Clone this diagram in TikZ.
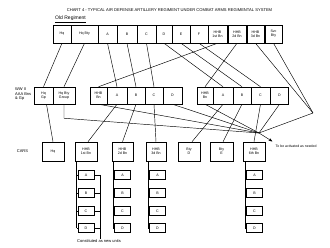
\documentclass[tikz,border=0pt]{standalone}
\usepackage{fontspec}
\setmainfont{Liberation Sans}
\usetikzlibrary{arrows.meta}
\begin{document}
\begin{tikzpicture}[x=1pt,y=-1pt,
 box/.style={draw, line width=0.5pt, inner sep=0pt, align=center, font=\fontsize{3.6}{4.2}\selectfont},
 toprow/.style={box, minimum height=18pt},
 midrow/.style={box, minimum height=17pt},
 lowrow/.style={box, minimum height=19pt},
 subbox/.style={box, minimum height=9pt, minimum width=16pt},
 conn/.style={line width=0.45pt},
 txt/.style={inner sep=0pt, font=\fontsize{4}{4.4}\selectfont, align=left}]
\useasboundingbox (0,0) rectangle (330,248);

% titles and labels
\node[txt, font=\fontsize{4.1}{5}\selectfont] (title) at (169.5,10) {CHART 4 - TYPICAL AIR DEFENSE ARTILLERY REGIMENT UNDER COMBAT ARMS REGIMENTAL SYSTEM};
\node[txt, font=\fontsize{5}{6}\selectfont, anchor=west] (old) at (55,18.5) {Old Regiment};
\draw[conn] ([yshift=-0.7pt]old.south west) -- ([yshift=-0.7pt]old.south east);
\node[txt, anchor=north west] (ww) at (15,88) {WW II\\AAA Bns\\\& Gp};
\node[txt] (cars) at (22.5,151) {CARS};

% top row: old regiment
\node[toprow, minimum width=18pt] (tHq) at (62,34) {Hq};
\node[toprow, minimum width=27pt] (tHqB) at (84.5,34) {Hq Bty};
\node[toprow, minimum width=19pt] (tA) at (107.5,34) {A};
\node[toprow, minimum width=20pt] (tB) at (127,34) {B};
\node[toprow, minimum width=19pt] (tC) at (146.5,34) {C};
\node[toprow, minimum width=16pt] (tD) at (164,34) {D};
\node[toprow, minimum width=18pt] (tE) at (181,34) {E};
\node[toprow, minimum width=18pt] (tF) at (199,34) {F};
\node[toprow, minimum width=19pt] (tH1) at (217.5,34) {HHB\\1st Bn};
\node[toprow, minimum width=18pt] (tH2) at (237,34) {HHB\\2d Bn};
\node[toprow, minimum width=17pt] (tH3) at (255.5,34) {HHB\\3d Bn};
\node[toprow, minimum width=17pt] (tS) at (273.5,34) {Svc\\Bty};

% middle row: WW II
\node[midrow, minimum width=19pt] (mHqG) at (43.5,95.5) {Hq\\Gp};
\node[midrow, minimum width=22pt] (mHqB) at (64,95.5) {Hq Bty\\Group};
\node[midrow, minimum width=17pt] (mH) at (98.5,95.5) {HHB\\Bn};
\node[midrow, minimum width=20pt] (mA) at (117,95.5) {A};
\node[midrow, minimum width=18pt] (mB) at (136,95.5) {B};
\node[midrow, minimum width=18pt] (mC) at (154,95.5) {C};
\node[midrow, minimum width=19pt] (mD) at (172.5,95.5) {D};
\node[midrow, minimum width=16pt] (nH) at (205,95.5) {HHB\\Bn};
\node[midrow, minimum width=20pt] (nA) at (223,95.5) {A};
\node[midrow, minimum width=18pt] (nB) at (242,95.5) {B};
\node[midrow, minimum width=19pt] (nC) at (260.5,95.5) {C};
\node[midrow, minimum width=18pt] (nD) at (279.5,95.5) {D};

% bottom row: CARS
\node[lowrow, minimum width=22pt] (cHq) at (53,151.5) {Hq};
\node[lowrow, minimum width=22pt] (c1) at (86,151.5) {HHB\\1st Bn};
\node[lowrow, minimum width=21pt] (c2) at (122.5,151.5) {HHB\\2d Bn};
\node[lowrow, minimum width=20pt] (c3) at (156,151.5) {HHB\\3d Bn};
\node[lowrow, minimum width=22pt] (cD) at (189,151.5) {Bty\\D};
\node[lowrow, minimum width=23pt] (cE) at (221.5,151.5) {Bty\\E};
\node[lowrow, minimum width=22pt] (c6) at (254,151.5) {HHB\\6th Bn};

% batteries under the battalions
\foreach \bn/\xx in {1/86,2/122.5,3/157.5,6/254.5} {
  \foreach \ll/\yy in {A/175,B/193,C/211,D/228} {
    \node[subbox] (s\bn\ll) at (\xx,\yy) {\ll};
  }
  \path (s\bn A.west) ++(-1.2,0) coordinate (L\bn);
  \draw[conn] (L\bn |- c\bn.south) -- (L\bn |- s\bn D.west);
  \foreach \ll in {A,B,C,D} {
    \draw[conn] (L\bn |- s\bn\ll.west) -- (s\bn\ll.west);
  }
}

% constituted as new units bracket
\node[txt] (cons) at (99,241) {Constituted as new units};
\path (s1A.east) ++(6,0) coordinate (R1);
\foreach \ll in {A,B,C,D} {
  \draw[conn] (s1\ll.east) -- (R1 |- s1\ll.east);
}
\draw[conn] (R1) -- (R1 |- cons.north);

% connectors old regiment -> WW II
\draw[conn] (tHq.south) -- (mHqG.north);
\draw[conn] (tHqB.south) -- (mHqB.north);
\draw[conn] (tA.south) -- (mA.north);
\draw[conn] (tB.south) -- (mB.north);
\draw[conn] (tC.south) -- (mC.north);
\draw[conn] (tD.south) -- (nA.north);
\draw[conn] (tE.south) -- (nB.north);
\draw[conn] (tF.south) -- (nC.north);
\draw[conn] (tH1.south) -- (mH.north);
\draw[conn] (tH2.south) -- (nH.north);

% units to be activated as needed
\coordinate (P1) at (313,113);
\coordinate (P2) at (259,133);
\coordinate (AR) at (272.5,141.5);
\node[txt, font=\fontsize{3.5}{4.2}\selectfont, anchor=west] (act) at (275.5,146) {To be activated as needed};
\draw[conn] (tH3.south) -- (P1);
\draw[conn] (tS.south) -- (P1);
\draw[conn] (P1) -- (P2);
\draw[conn] (mHqB.south) -- ++(0,14) -- (P2);
\draw[conn] (mH.south) -- (P2);
\draw[conn] (mD.south) -- (P2);
\draw[conn] (nH.south) -- (P2);
\draw[conn] (nD.south) -- (P2);
\draw[conn, -{Stealth[length=4pt,width=3pt]}] (P2) -- (AR);

% connectors WW II -> CARS
\draw[conn] ([xshift=3pt]mHqG.south) -- (cHq.north);
\draw[conn] (mA.south) -- ([xshift=2pt]c1.north);
\draw[conn] (mB.south) -- (c2.north);
\draw[conn] (mC.south) -- (c3.north);
\draw[conn] (nA.south) -- ([xshift=3pt]cD.north);
\draw[conn] (nB.south) -- ([xshift=1.5pt]cE.north);
\draw[conn] (nC.south) -- (c6.north);
\end{tikzpicture}
\end{document}
